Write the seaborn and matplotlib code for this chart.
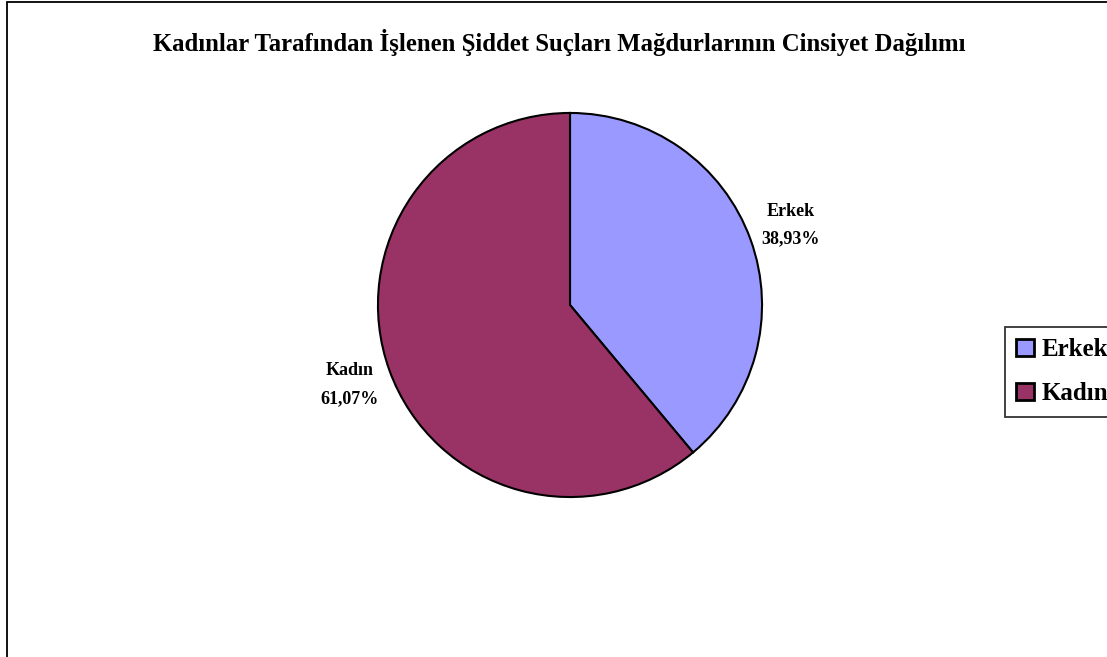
import matplotlib
matplotlib.use("Agg")
import matplotlib.pyplot as plt
from matplotlib.patches import Rectangle, Patch
import seaborn as sns

# veriler
categories = ["Erkek", "Kadın"]
values = [38.93, 61.07]
colors = ["#9999FF", "#993366"]
title = "Kadınlar Tarafından İşlenen Şiddet Suçları Mağdurlarının Cinsiyet Dağılımı"

sns.set_theme(style="white")
plt.rcParams["font.family"] = ["Liberation Serif", "DejaVu Serif"]
plt.rcParams["text.color"] = "black"

W, H = 1107, 657
fig = plt.figure(figsize=(W / 100, H / 100), dpi=100)

# cadre du graphique (coupe a droite et en bas)
fig.patches.append(Rectangle((7 / W, -0.1), 2.0, 1 - 2 / H + 0.1,
                             transform=fig.transFigure, fill=False,
                             edgecolor="black", linewidth=1.3))

cx, cy, r = 570, 305, 193
ax = fig.add_axes([(cx - r) / W, (H - cy - r) / H, 2 * r / W, 2 * r / H])
labels = [f"{c}\n{v:.2f}%".replace(".", ",") for c, v in zip(categories, values)]
wedges, texts = ax.pie(values, colors=colors, startangle=90, counterclock=False,
                       labels=labels, labeldistance=1.22,
                       wedgeprops=dict(edgecolor="black", linewidth=1.5))
for t in texts:
    t.set_ha("center")
    t.set_va("center")
    t.set_fontsize(13)
    t.set_fontweight("bold")
    t.set_color("black")
    t.set_linespacing(1.85)
ax.set_xlim(-1.005, 1.005)
ax.set_ylim(-1.005, 1.005)
ax.set_aspect("equal")

fig.text(559 / W, 1 - 42 / H, title, ha="center", va="center",
         fontsize=17.8, fontweight="bold", color="black")

handles = [Patch(facecolor=c, edgecolor="black", linewidth=2) for c in colors]
leg = fig.legend(handles, categories, loc="upper left",
                 bbox_to_anchor=(1005 / W, 1 - 327 / H),
                 prop=dict(size=18, weight="bold"), frameon=True,
                 fancybox=False, handlelength=0.7, handleheight=0.7,
                 handletextpad=0.3, borderpad=0.45, labelspacing=0.85,
                 borderaxespad=0)
leg.get_frame().set_edgecolor("black")
leg.get_frame().set_linewidth(1.3)
for t in leg.get_texts():
    t.set_color("black")

fig.savefig("out.png", dpi=100)
